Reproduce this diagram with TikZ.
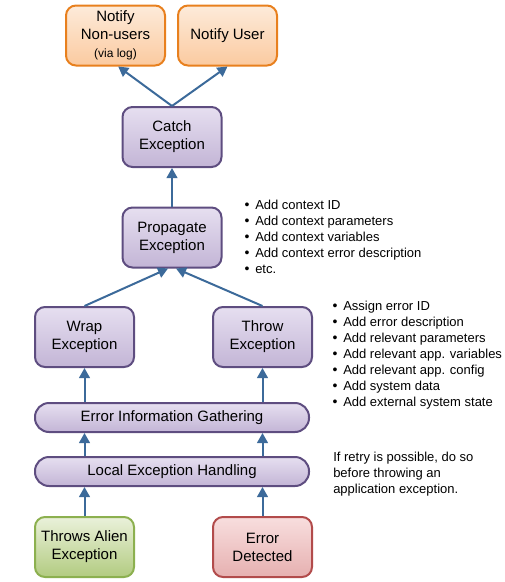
\documentclass[tikz,border=0pt]{standalone}
\usepackage{fontspec}
\setmainfont{Liberation Sans}
\usetikzlibrary{arrows.meta,shadings}
\definecolor{boxline}{HTML}{5E4D80}
\definecolor{boxtop}{HTML}{E6DFF0}
\definecolor{boxbot}{HTML}{C3B5D6}
\definecolor{orline}{HTML}{E8801E}
\definecolor{ortop}{HTML}{FDEBDB}
\definecolor{orbot}{HTML}{FBCA9F}
\definecolor{grline}{HTML}{8CB04F}
\definecolor{grtop}{HTML}{EAF1DA}
\definecolor{grbot}{HTML}{B2CB80}
\definecolor{rdline}{HTML}{B24B4B}
\definecolor{rdtop}{HTML}{F8DEDE}
\definecolor{rdbot}{HTML}{E6B0B0}
\definecolor{arrblue}{HTML}{3C6A9A}
\newcommand\blt{\makebox[8.25pt][l]{\hspace{0.2pt}\fontsize{10.5}{10}\selectfont•}}
\begin{document}
\begin{tikzpicture}[x=0.75pt,y=-0.75pt,
    stepbox/.style={draw=boxline,line width=1.5pt,rounded corners=7.5pt,
        top color=boxtop,bottom color=boxbot,minimum width=74.25pt,
        minimum height=45pt,align=center,inner sep=0pt,
        font=\fontsize{11.25}{13.5}\selectfont},
    barbox/.style={stepbox,rounded corners=10.5pt,minimum width=205.5pt,
        minimum height=21.75pt},
    notebox/.style={stepbox,draw=orline,top color=ortop,bottom color=orbot},
    alienbox/.style={stepbox,draw=grline,top color=grtop,bottom color=grbot},
    errbox/.style={stepbox,draw=rdline,top color=rdtop,bottom color=rdbot},
    arr/.style={draw=arrblue,line width=1.5pt,-{Triangle[length=7.5pt,width=8pt]}},
    notes/.style={anchor=west,align=left,inner sep=0pt,
        font=\fontsize{9.75}{12}\selectfont}]
    \useasboundingbox (0,0) rectangle (505,582);

    % 上方通知
    \node[notebox] (nonusers) at (115.5,35.5) {Notify\\Non-users\\{\fontsize{9}{11}\selectfont (via log)}};
    \node[notebox] (user) at (227.5,35.5) {Notify User};

    % 异常流程
    \node[stepbox] (catch) at (172,137) {Catch\\Exception};
    \node[stepbox] (prop) at (172,237.5) {Propagate\\Exception};
    \node[stepbox] (wrap) at (84.5,337) {Wrap\\Exception};
    \node[stepbox] (throw) at (262.5,337) {Throw\\Exception};
    \node[barbox] (gather) at (172,417.5) {Error Information Gathering};
    \node[barbox] (local) at (172,471.5) {Local Exception Handling};
    \node[alienbox] (alien) at (84.5,547) {Throws Alien\\Exception};
    \node[errbox] (detect) at (262.5,547) {Error\\Detected};

    % 箭头
    \draw[arr] (catch.north) -- ([xshift=2pt]nonusers.south);
    \draw[arr] (catch.north) -- (user.south);
    \draw[arr] (prop) -- (catch);
    \draw[arr] (wrap.north) -- ([xshift=-3pt]prop.south);
    \draw[arr] (throw.north) -- ([xshift=3pt]prop.south);
    \draw[arr] (wrap.south |- gather.north) -- (wrap.south);
    \draw[arr] (throw.south |- gather.north) -- (throw.south);
    \draw[arr] (wrap.south |- local.north) -- (wrap.south |- gather.south);
    \draw[arr] (throw.south |- local.north) -- (throw.south |- gather.south);
    \draw[arr] (alien.north) -- (alien.north |- local.south);
    \draw[arr] (detect.north) -- (detect.north |- local.south);

    % 说明文字
    \node[notes] (propnotes) at (244,237) {\blt Add context ID\\\blt Add context parameters\\\blt Add context variables\\\blt Add context error description\\\blt etc.};
    \node[notes] (thrownotes) at (332,355) {\blt Assign error ID\\\blt Add error description\\\blt Add relevant parameters\\\blt Add relevant app. variables\\\blt Add relevant app. config\\\blt Add system data\\\blt Add external system state};
    \node[notes] (retrynote) at (333,474) {If retry is possible, do so\\before throwing an\\application exception.};
\end{tikzpicture}
\end{document}
